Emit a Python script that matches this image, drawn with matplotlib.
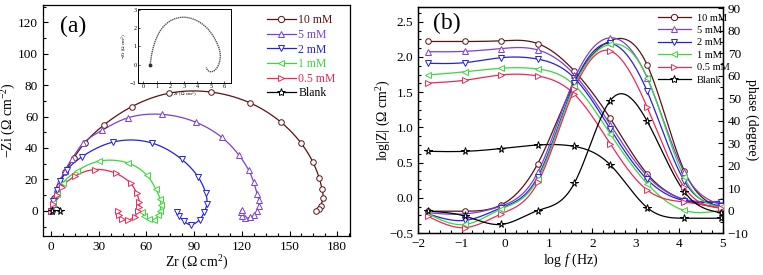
import numpy as np
import matplotlib
matplotlib.use("Agg")
import matplotlib.pyplot as plt
from matplotlib.ticker import MultipleLocator

plt.rcParams['font.family'] = ['Liberation Serif', 'DejaVu Serif']
plt.rcParams['mathtext.fontset'] = 'custom'
plt.rcParams['mathtext.rm'] = 'Liberation Serif'
plt.rcParams['mathtext.it'] = 'Liberation Serif:italic'

# ---------------- data ----------------
labels = ['10 mM', '5 mM', '2 mM', '1 mM', '0.5 mM', 'Blank']
colors = ['#5a1212', '#7b3fd9', '#2222dd', '#3ad83a', '#ee2855', '#000000']
markers = ['o', '^', 'v', '<', '>', '*']

# Nyquist (panel a)
zr_10 = [0.5, 2, 5, 9, 14.5, 21.4, 33.6, 50.8, 73.9, 100.6, 125.4, 144.5, 157.1, 164.6, 168.6, 170.5, 171, 169.5, 168.3, 166.5]
zi_10 = [0, 8, 16, 25, 33.9, 43.4, 54.9, 66.3, 74.8, 75.6, 68.6, 56.5, 43.3, 31.2, 21.0, 13.6, 7.9, 3.4, 1.3, 0]
zr_5 = [0.3, 1, 2.3, 3.8, 6, 8.6, 13.4, 20.2, 32.3, 48.7, 70.1, 90.9, 107.5, 118, 124.3, 127.5, 129.6, 130.7, 130.7, 129.6, 127.5, 125, 122.2, 120.1, 119.5, 119.8]
zi_5 = [0, 4.5, 10, 14.5, 19.5, 25.5, 33.3, 43, 51.4, 59.3, 61.4, 56.5, 46.7, 35.7, 25.9, 18.1, 11, 6.8, 3, -0.2, -2.8, -4.2, -4.4, -3, -1, 0.5]
zr_2 = [0.3, 1.5, 3.5, 6, 10, 19.3, 39.2, 63.4, 82.2, 92.7, 97.3, 98, 96.3, 93.5, 88.1, 83.5, 80.5, 79.5]
zi_2 = [0, 6.5, 13, 19, 26, 34.3, 43.8, 43.2, 32.8, 21.3, 11.2, 4.4, -1, -5.5, -8.8, -6.5, -3, -0.5]
zr_1 = [0.3, 1.5, 3.5, 7.5, 16.6, 30.2, 48.3, 60.2, 66, 68.6, 69, 68.6, 67.6, 64.8, 61.5, 58.5, 57.5]
zi_1 = [0, 5, 11, 18, 25.5, 31.6, 30.5, 22.7, 13.7, 7.4, 3.8, 0.2, -2.5, -5.7, -5.2, -3.2, -0.5]
zr_05 = [0.3, 1.5, 3.5, 7, 15.1, 27.7, 40.9, 50.1, 53.9, 55.6, 55.6, 54.5, 52.9, 48.7, 44.5, 43, 42.4]
zi_05 = [0, 4.5, 10, 15.5, 22.1, 26.3, 23.8, 17.5, 11.2, 5.9, 2.7, -0.4, -3.6, -5.7, -5.1, -2.5, -0.4]
zr_bl = [0.5, 0.6, 0.75, 1.2, 2, 3, 4, 4.85, 5.45, 5.7, 5.58, 5.2, 4.85, 4.65]
zi_bl = [0, 0.5, 1.0, 1.8, 2.4, 2.6, 2.4, 1.9, 1.2, 0.58, 0, -0.35, -0.35, -0.15]
blank_star_idx = [0, 10]

# Bode (panel b)
logf = [-1.77, -0.92, -0.09, 0.75, 1.59, 2.41, 3.26, 4.11, 4.95]
logz_10 = [2.22, 2.22, 2.23, 2.19, 1.80, 1.13, 0.34, -0.03, -0.14]
logz_5 = [2.075, 2.08, 2.12, 2.10, 1.75, 1.04, 0.31, -0.02, -0.05]
logz_2 = [1.91, 1.92, 1.99, 1.97, 1.70, 0.98, 0.26, -0.04, -0.06]
logz_1 = [1.745, 1.79, 1.84, 1.83, 1.60, 0.91, 0.20, -0.18, -0.18]
logz_05 = [1.63, 1.67, 1.745, 1.73, 1.47, 0.77, 0.11, -0.06, -0.14]
logz_bl = [0.66, 0.66, 0.70, 0.75, 0.73, 0.47, -0.14, -0.29, -0.29]
ph_10 = [-0.3, -0.3, 2.5, 20.9, 57, 75.5, 64.7, 17.7, 1.2]
ph_5 = [-1, -1.5, 2, 17, 58.5, 76.8, 59, 17, 2.5]
ph_2 = [-1.5, -4.4, 1.2, 15, 56.5, 74.3, 53, 13.2, 2]
ph_1 = [-1.5, -6.2, 0.7, 14, 55.5, 73.9, 59.1, 14.7, 1.5]
ph_05 = [-2.6, -7.6, -1.5, 12.5, 54, 71, 45.9, 10.3, 1]
ph_bl = [-0.3, -2.5, -6.2, 0, 12.2, 48.8, 39.7, 8.4, -1]

nyq = [(zr_10, zi_10), (zr_5, zi_5), (zr_2, zi_2), (zr_1, zi_1), (zr_05, zi_05), (zr_bl, zi_bl)]
logz = [logz_10, logz_5, logz_2, logz_1, logz_05, logz_bl]
phase = [ph_10, ph_5, ph_2, ph_1, ph_05, ph_bl]


# ------------- smooth line drawing helper (spline through read points) -------------
def nat_spline(t, y, tt):
    t = np.asarray(t, float); y = np.asarray(y, float)
    n = len(t); h = np.diff(t)
    A = np.zeros((n, n)); r = np.zeros(n)
    A[0, 0] = A[-1, -1] = 1
    for i in range(1, n - 1):
        A[i, i - 1] = h[i - 1]; A[i, i] = 2 * (h[i - 1] + h[i]); A[i, i + 1] = h[i]
        r[i] = 3 * ((y[i + 1] - y[i]) / h[i] - (y[i] - y[i - 1]) / h[i - 1])
    c = np.linalg.solve(A, r)
    b = (y[1:] - y[:-1]) / h - h * (2 * c[:-1] + c[1:]) / 3
    d = (c[1:] - c[:-1]) / (3 * h)
    idx = np.clip(np.searchsorted(t, tt) - 1, 0, n - 2)
    dx = tt - t[idx]
    return y[idx] + b[idx] * dx + c[idx] * dx ** 2 + d[idx] * dx ** 3


def smooth_xy(x, y):
    x = np.asarray(x, float); y = np.asarray(y, float)
    seg = np.hypot(np.diff(x), np.diff(y))
    t = np.concatenate([[0], np.cumsum(np.sqrt(seg))])
    tt = np.linspace(0, t[-1], 600)
    return nat_spline(t, x, tt), nat_spline(t, y, tt)


def smooth_fx(x, y):
    tt = np.linspace(x[0], x[-1], 400)
    return tt, nat_spline(x, y, tt)


fig = plt.figure(figsize=(7.63, 2.75), dpi=100)
TICK = 9.5
LAB = 10

# ---------------- panel (a) ----------------
ax = fig.add_axes([43 / 763, 39 / 275, 307 / 763, 231 / 275])
handles = []
for (x, y), c, m, lab in zip(nyq, colors, markers, labels):
    sx, sy = smooth_xy(x, y)
    ax.plot(sx, sy, color=c, lw=0.9, zorder=2)
    ms = 5.5 if m == '*' else 4
    xm, ym = np.asarray(x), np.asarray(y)
    if m == '*':
        xm, ym = xm[blank_star_idx], ym[blank_star_idx]
    ax.plot(xm, ym, ls='none', marker=m, ms=ms, mfc='white', mec=c, mew=0.7, zorder=3)
    handles.append(plt.Line2D([], [], color=c, lw=0.9, marker=m, ms=ms + 0.5, mfc='white', mec=c, mew=0.7))
ax.set_xlim(-5, 188)
ax.set_ylim(-16, 131)
ax.xaxis.set_major_locator(MultipleLocator(30))
ax.xaxis.set_minor_locator(MultipleLocator(7.5))
ax.yaxis.set_major_locator(MultipleLocator(20))
ax.yaxis.set_minor_locator(MultipleLocator(10))
ax.tick_params(which='both', direction='in', top=False, right=False, labelsize=TICK, width=0.8)
ax.tick_params(which='major', length=3.5)
ax.tick_params(which='minor', length=2)
for s in ax.spines.values():
    s.set_linewidth(0.9)
ax.set_xlabel('Zr (Ω cm$^{2}$)', fontsize=LAB, labelpad=1)
ax.set_ylabel('−Zi (Ω cm$^{-2}$)', fontsize=LAB)
ax.yaxis.set_label_coords(-0.082, 0.5)
ax.text(0.055, 0.955, '(a)', transform=ax.transAxes, fontsize=17, va='top', ha='left')
leg = ax.legend(handles, labels, loc='upper left', bbox_to_anchor=(0.705, 0.99), frameon=False,
                fontsize=8.5, handlelength=2.5, handletextpad=0.2, labelspacing=0.22, borderpad=0.1)
for t, c in zip(leg.get_texts(), colors):
    t.set_color(c)

# inset
axi = fig.add_axes([138 / 763, 192 / 275, 93 / 763, 74 / 275])
sx, sy = smooth_xy(zr_bl, zi_bl)
axi.plot(sx, sy, color='#555555', lw=1.0, ls=(0, (1, 0.5)))
axi.plot(zr_bl[0], zi_bl[0], 'o', color='#333333', ms=1.8)
axi.set_xlim(-0.4, 6.5)
axi.set_ylim(-1.0, 3.05)
axi.xaxis.set_major_locator(MultipleLocator(1))
axi.yaxis.set_major_locator(MultipleLocator(1))
axi.tick_params(direction='in', labelsize=4.5, length=1.5, width=0.5, pad=1)
for s in axi.spines.values():
    s.set_linewidth(0.7)
axi.set_xlabel('Zr (Ω cm$^{2}$)', fontsize=3.5, labelpad=0)
axi.set_ylabel('−Zi (Ω cm$^{2}$)', fontsize=3.5, labelpad=0)

# ---------------- panel (b) ----------------
bx = fig.add_axes([418 / 763, 42 / 275, 305 / 763, 226 / 275])
bx2 = bx.twinx()
bhandles = []
for lz, ph, c, m, lab in zip(logz, phase, colors, markers, labels):
    ms = 5.5 if m == '*' else 4
    sx, sy = smooth_fx(logf, lz)
    bx.plot(sx, sy, color=c, lw=0.9, zorder=2)
    bx.plot(logf, lz, ls='none', marker=m, ms=ms, mfc='white', mec=c, mew=0.7, zorder=3)
    sx, sy = smooth_fx(logf, ph)
    bx2.plot(sx, sy, color=c, lw=0.9, zorder=2)
    bx2.plot(logf, ph, ls='none', marker=m, ms=ms, mfc='white', mec=c, mew=0.7, zorder=3)
    bhandles.append(plt.Line2D([], [], color=c, lw=0.9, marker=m, ms=ms + 0.5, mfc='white', mec=c, mew=0.7))
bx.set_xlim(-2, 5)
bx.set_ylim(-0.5, 2.71)
bx2.set_ylim(-10, 90.5)
bx.xaxis.set_major_locator(MultipleLocator(1))
bx.xaxis.set_minor_locator(MultipleLocator(0.25))
bx.yaxis.set_major_locator(MultipleLocator(0.5))
bx.yaxis.set_minor_locator(MultipleLocator(0.125))
bx2.yaxis.set_major_locator(MultipleLocator(10))
bx2.yaxis.set_minor_locator(MultipleLocator(5))
bx.tick_params(which='both', direction='in', top=False, right=False, labelsize=TICK, width=0.8)
bx2.tick_params(which='both', direction='in', labelsize=TICK, width=0.8)
for a in (bx, bx2):
    a.tick_params(which='major', length=3.5)
    a.tick_params(which='minor', length=2)
    for s in a.spines.values():
        s.set_linewidth(0.9)
bx.set_xlabel('log $f$ (Hz)', fontsize=LAB, labelpad=1)
bx.set_ylabel('log|Z| (Ω cm$^{2}$)', fontsize=LAB)
bx.yaxis.set_label_coords(-0.082, 0.5)
bx2.set_ylabel('phase (degree)', fontsize=LAB, rotation=270, va='center')
bx2.yaxis.set_label_coords(1.095, 0.5)
bx.text(0.05, 0.975, '(b)', transform=bx.transAxes, fontsize=17, va='top', ha='left')
bx2.legend(bhandles, labels, loc='upper left', bbox_to_anchor=(0.765, 1.0), frameon=False,
           fontsize=7.5, handlelength=3.2, handletextpad=0.6, labelspacing=0.3, borderpad=0.1)

fig.savefig('out.png', dpi=100, facecolor='white')
